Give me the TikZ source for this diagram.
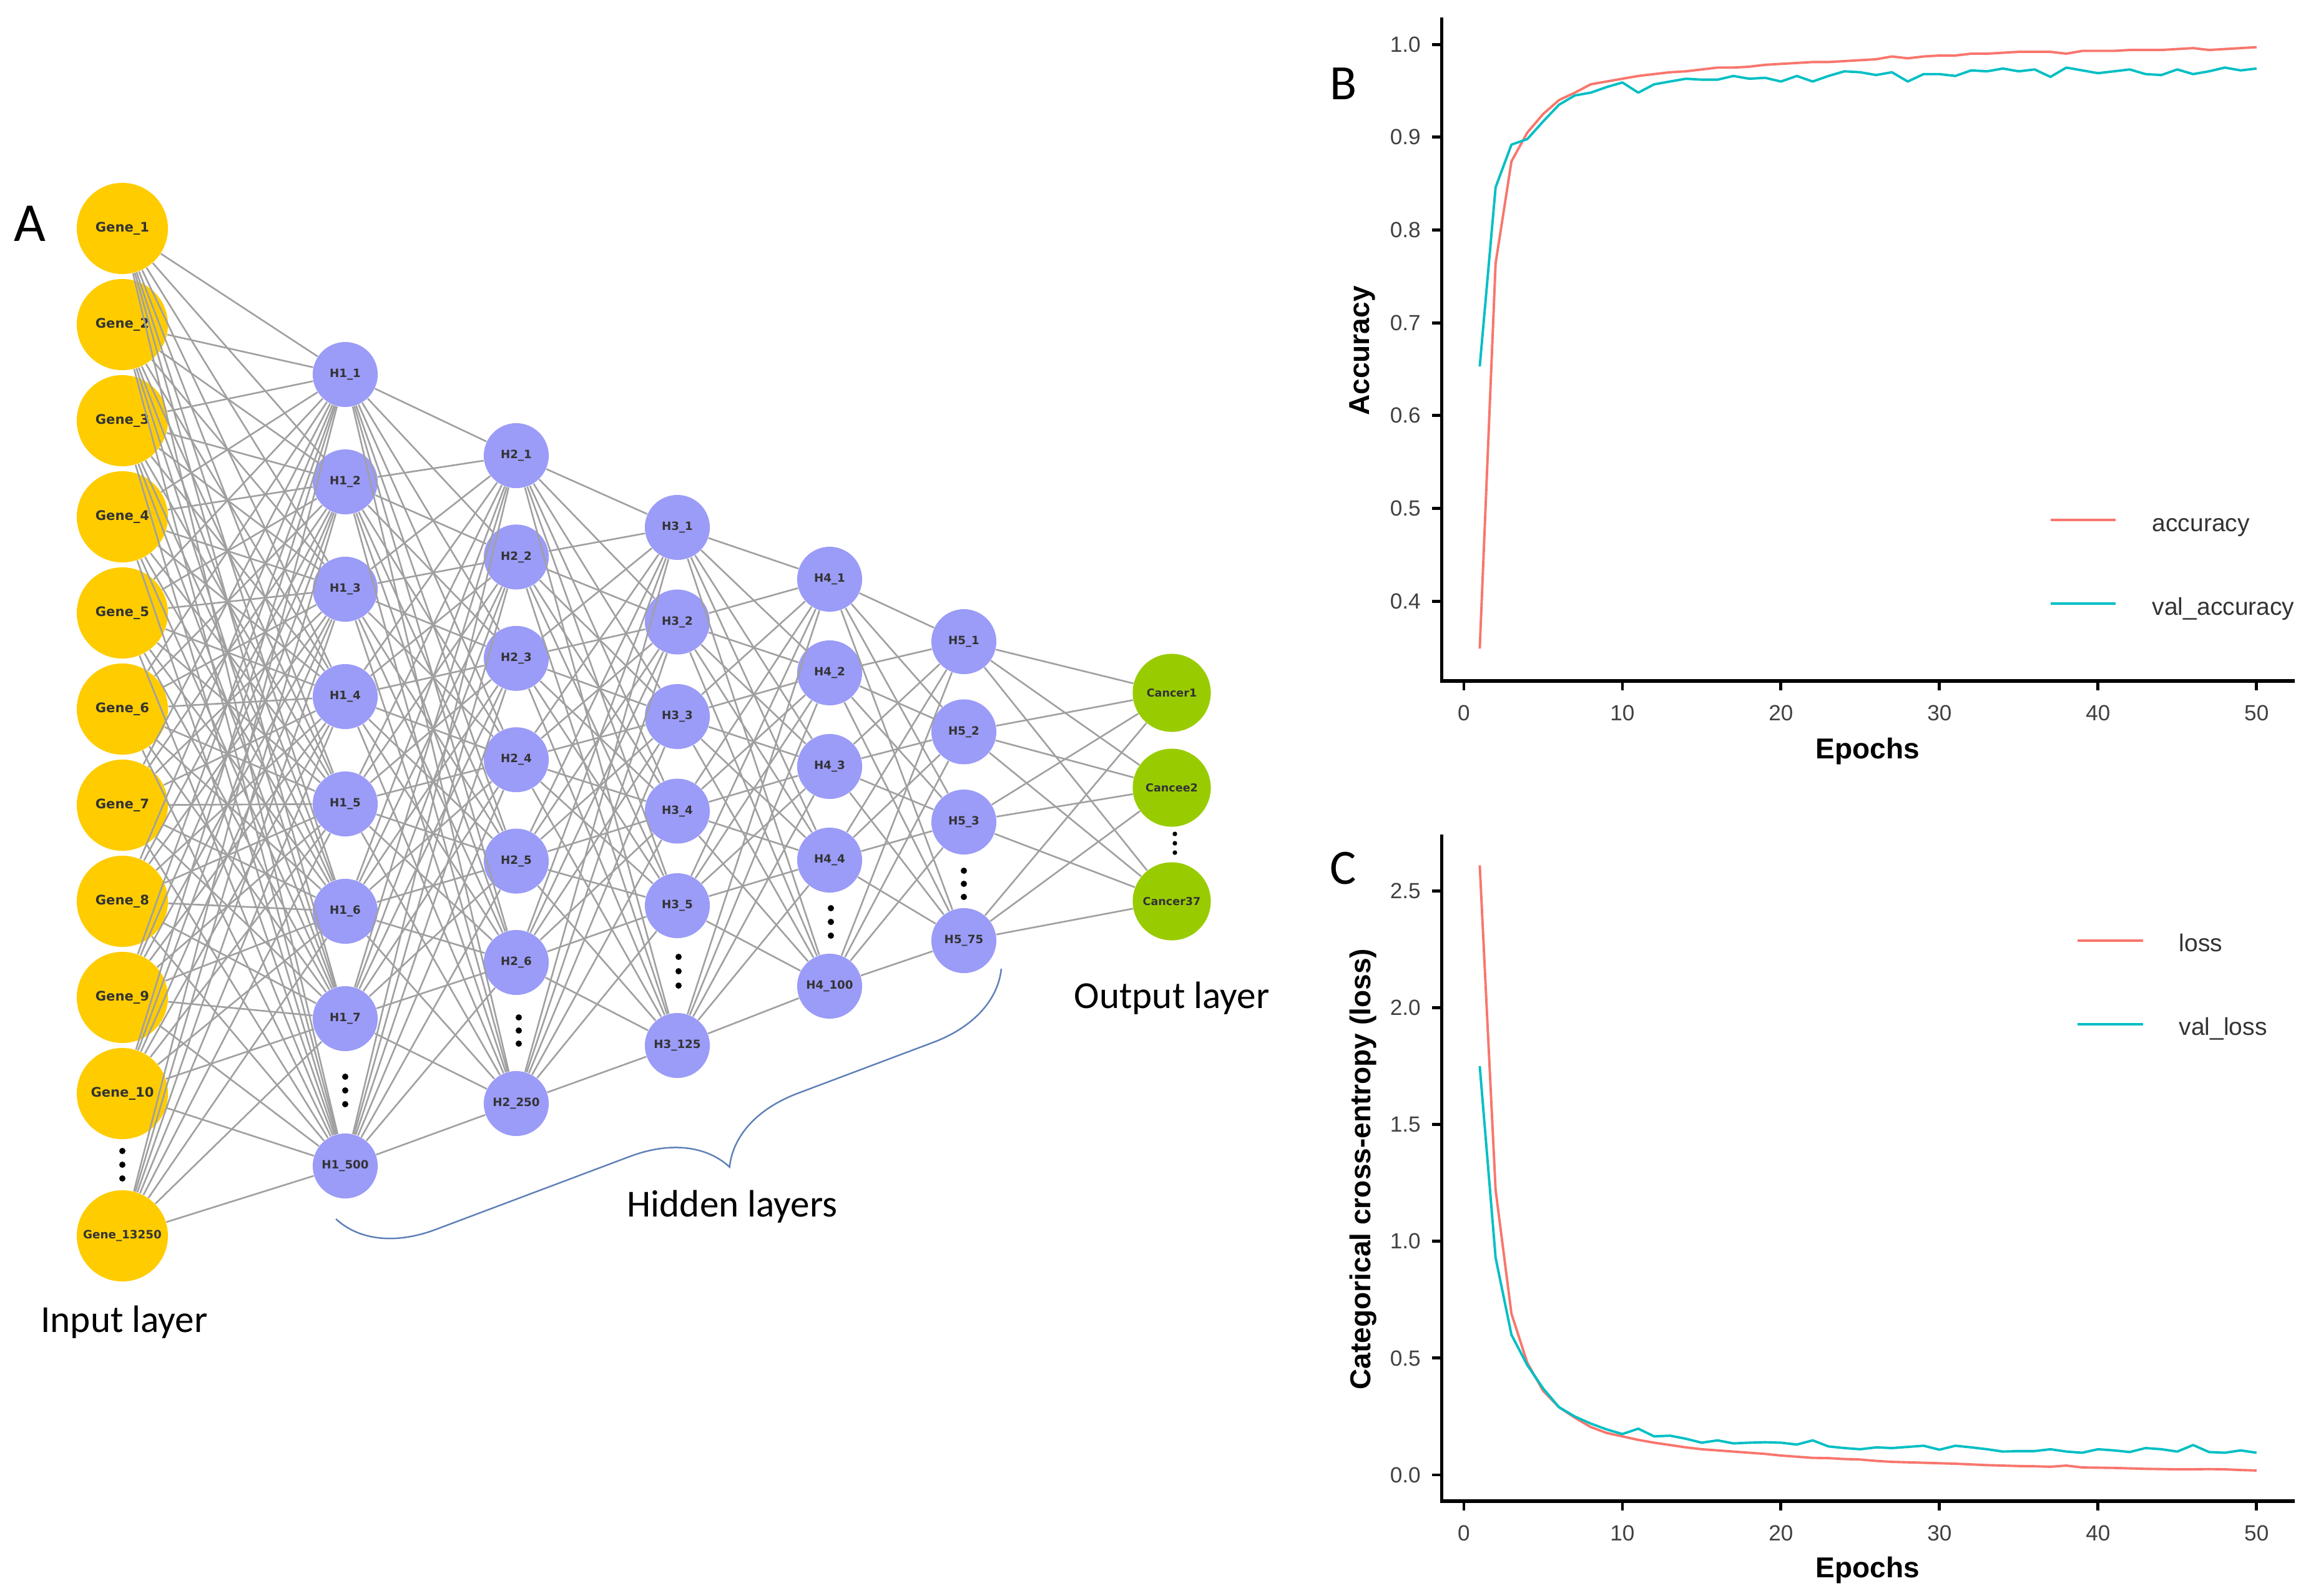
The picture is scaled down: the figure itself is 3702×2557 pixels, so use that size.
\documentclass[tikz,border=0pt]{standalone}
\usepackage{fontspec}
\setmainfont{Carlito}
\newfontfamily\nodefont{DejaVu Sans}
\newfontfamily\plotfont{Liberation Sans}
\usetikzlibrary{decorations.pathreplacing}
\definecolor{geneyellow}{HTML}{FFCC00}
\definecolor{hidpurple}{HTML}{9B9BF8}
\definecolor{outgreen}{HTML}{99CC00}
\definecolor{accred}{HTML}{F8766D}
\definecolor{valcyan}{HTML}{00BFC4}
\definecolor{braceblue}{HTML}{5E80B8}
\definecolor{edgegray}{HTML}{A0A0A0}
\begin{document}
\begin{tikzpicture}[x=0.01cm, y=-0.01cm,
    neuron/.style={circle, inner sep=0pt, text=black!80},
    gene/.style={neuron, fill=geneyellow, minimum size=1.46cm, font=\nodefont\bfseries\fontsize{6pt}{7pt}\selectfont},
    hid/.style={neuron, fill=hidpurple, minimum size=1.04cm, font=\nodefont\bfseries\fontsize{5.2pt}{6pt}\selectfont},
    outp/.style={neuron, fill=outgreen, minimum size=1.25cm, font=\nodefont\bfseries\fontsize{5pt}{6pt}\selectfont},
    edge/.style={draw=edgegray, line width=0.75pt},
    layerlabel/.style={anchor=base, inner sep=0pt, font=\fontsize{17.4pt}{20pt}\selectfont},
    panellabel/.style={anchor=base, inner sep=0pt, font=\fontsize{22.5pt}{26pt}\selectfont},
    axisline/.style={line width=1.6pt, line cap=rect},
    tickline/.style={line width=1.4pt},
    ticklab/.style={inner sep=0pt, text=black!75, font=\plotfont\fontsize{10pt}{12pt}\selectfont},
    legendlab/.style={anchor=base west, inner sep=0pt, text=black!80, font=\plotfont\fontsize{11.1pt}{13pt}\selectfont},
    axtitle/.style={inner sep=0pt, font=\plotfont\bfseries\fontsize{13.1pt}{15pt}\selectfont},
    accline/.style={draw=accred, line width=1.1pt, line join=round},
    valline/.style={draw=valcyan, line width=1.1pt, line join=round}]
    % canvas, in pixels of the reference
    \fill[white] (0,0) rectangle (3702,2557);

    % input layer
    \foreach \i in {1,...,10}
        \node[gene] (g\i) at (196,{366+154*(\i-1)}) {Gene\_\i};
    \node[gene, font=\nodefont\bfseries\fontsize{5.2pt}{6pt}\selectfont] (g11) at (196,1980) {Gene\_13250};

    % hidden layers
    \foreach \i in {1,...,7}
        \node[hid] (a\i) at (553,{600+172*(\i-1)}) {H1\_\i};
    \node[hid] (a8) at (553,1868) {H1\_500};
    \foreach \i in {1,...,6}
        \node[hid] (b\i) at (827,{730+162.4*(\i-1)}) {H2\_\i};
    \node[hid] (b7) at (827,1768) {H2\_250};
    \foreach \i in {1,...,5}
        \node[hid] (c\i) at (1085,{845+151.5*(\i-1)}) {H3\_\i};
    \node[hid] (c6) at (1085,1675) {H3\_125};
    \foreach \i in {1,...,4}
        \node[hid] (d\i) at (1329,{928+150*(\i-1)}) {H4\_\i};
    \node[hid] (d5) at (1329,1580) {H4\_100};
    \foreach \i in {1,...,3}
        \node[hid] (e\i) at (1544,{1028+144.5*(\i-1)}) {H5\_\i};
    \node[hid] (e4) at (1544,1507) {H5\_75};

    % output layer
    \node[outp] (o1) at (1877,1110) {Cancer1};
    \node[outp] (o2) at (1877,1262) {Cancee2};
    \node[outp] (o3) at (1877,1444) {Cancer37};

    % full connections between neighbouring layers
    \foreach \p/\q/\m/\n in {g/a/11/8, a/b/8/7, b/c/7/6, c/d/6/5, d/e/5/4, e/o/4/3}
        \foreach \i in {1,...,\m}
            \foreach \j in {1,...,\n}
                \draw[edge] (\p\i) -- (\q\j);

    % vertical dots
    \foreach \x/\y/\s in {196/1844/22, 553/1725/22, 831/1630/21, 1087/1533/23, 1331/1455/22, 1544/1395/21}
        \foreach \k in {0,1,2}
            \fill (\x,{\y+\k*\s}) circle[radius=0.05cm];
    \foreach \k in {0,1,2}
        \fill (1882,{1336+15*\k}) circle[radius=0.037cm];

    % brace and layer names
    \draw[braceblue, line width=0.7pt, decorate, decoration={brace, amplitude=1.44cm, aspect=0.456}] (1604,1552) -- (538,1953);
    \node[layerlabel] (inlab) at (199,2134) {Input layer};
    \node[layerlabel] (hidlab) at (1173,1949) {Hidden layers};
    \node[layerlabel] (outlab) at (1877,1615) {Output layer};
    \node[panellabel, font=\fontsize{25pt}{29pt}\selectfont] (pa) at (48,386) {A};
    \node[panellabel] (pb) at (2152,159) {B};
    \node[panellabel] (pc) at (2152,1416) {C};

    % B: accuracy
    \begin{scope}[shift={(2345,1558)}, x=0.2538cm, y=14.86cm]
        \draw[axisline] (-1.4,1.027) -- (-1.4,0.314) -- (52.3,0.314);
        \foreach \v [count=\i] in {0.4,0.5,0.6,0.7,0.8,0.9,1.0} {
            \draw[tickline] (-1.4,\v) -- ++(-0.15cm,0);
            \node[ticklab, left=0.33cm] (bty\i) at (-1.4,\v) {\v};
        }
        \foreach \e [count=\i] in {0,10,20,30,40,50} {
            \draw[tickline] (\e,0.314) -- ++(0,-0.15cm);
            \node[ticklab, below=0.38cm] (btx\i) at (\e,0.314) {\e};
        }
        \draw[accline] plot coordinates {(1,0.349) (2,0.764) (3,0.874) (4,0.905) (5,0.925) (6,0.940) (7,0.948) (8,0.957) (9,0.960) (10,0.963)
            (11,0.966) (12,0.968) (13,0.970) (14,0.971) (15,0.973) (16,0.975) (17,0.975) (18,0.976) (19,0.978) (20,0.979)
            (21,0.980) (22,0.981) (23,0.981) (24,0.982) (25,0.983) (26,0.984) (27,0.987) (28,0.985) (29,0.987) (30,0.988)
            (31,0.988) (32,0.990) (33,0.990) (34,0.991) (35,0.992) (36,0.992) (37,0.992) (38,0.990) (39,0.993) (40,0.993)
            (41,0.993) (42,0.994) (43,0.994) (44,0.994) (45,0.995) (46,0.996) (47,0.994) (48,0.995) (49,0.996) (50,0.997)};
        \draw[valline] plot coordinates {(1,0.653) (2,0.846) (3,0.892) (4,0.898) (5,0.917) (6,0.935) (7,0.945) (8,0.948) (9,0.954) (10,0.959)
            (11,0.948) (12,0.957) (13,0.960) (14,0.963) (15,0.962) (16,0.962) (17,0.966) (18,0.963) (19,0.964) (20,0.960)
            (21,0.966) (22,0.960) (23,0.966) (24,0.971) (25,0.970) (26,0.967) (27,0.970) (28,0.960) (29,0.968) (30,0.968)
            (31,0.966) (32,0.972) (33,0.971) (34,0.974) (35,0.971) (36,0.973) (37,0.965) (38,0.975) (39,0.972) (40,0.969)
            (41,0.971) (42,0.973) (43,0.968) (44,0.967) (45,0.973) (46,0.968) (47,0.971) (48,0.975) (49,0.972) (50,0.974)};
    \end{scope}
    \node[axtitle, rotate=90] (accy) at (2182,562) {Accuracy};
    \node[axtitle, anchor=base] (accx) at (2992,1215) {Epochs};
    \draw[accline] (3285,833) -- (3389,833);
    \draw[valline] (3285,967) -- (3389,967);
    \node[legendlab] (acclab) at (3447,851) {accuracy};
    \node[legendlab] (valacclab) at (3447,985) {val\_accuracy};

    % C: loss
    \begin{scope}[shift={(2345,2363)}, x=0.2538cm, y=3.74cm]
        \draw[axisline] (-1.4,2.735) -- (-1.4,-0.112) -- (52.3,-0.112);
        \foreach \v [count=\i] in {0.0,0.5,1.0,1.5,2.0,2.5} {
            \draw[tickline] (-1.4,\v) -- ++(-0.15cm,0);
            \node[ticklab, left=0.33cm] (cty\i) at (-1.4,\v) {\v};
        }
        \foreach \e [count=\i] in {0,10,20,30,40,50} {
            \draw[tickline] (\e,-0.112) -- ++(0,-0.15cm);
            \node[ticklab, below=0.38cm] (ctx\i) at (\e,-0.112) {\e};
        }
        \draw[accline] plot coordinates {(1,2.61) (2,1.22) (3,0.69) (4,0.48) (5,0.36) (6,0.29) (7,0.245) (8,0.205) (9,0.18) (10,0.165)
            (11,0.15) (12,0.138) (13,0.128) (14,0.118) (15,0.11) (16,0.105) (17,0.1) (18,0.095) (19,0.09) (20,0.083)
            (21,0.078) (22,0.073) (23,0.072) (24,0.068) (25,0.066) (26,0.06) (27,0.056) (28,0.054) (29,0.052) (30,0.05)
            (31,0.048) (32,0.045) (33,0.042) (34,0.04) (35,0.038) (36,0.037) (37,0.035) (38,0.04) (39,0.032) (40,0.031)
            (41,0.03) (42,0.028) (43,0.026) (44,0.025) (45,0.024) (46,0.024) (47,0.025) (48,0.024) (49,0.021) (50,0.019)};
        \draw[valline] plot coordinates {(1,1.75) (2,0.93) (3,0.60) (4,0.47) (5,0.37) (6,0.29) (7,0.25) (8,0.22) (9,0.195) (10,0.175)
            (11,0.198) (12,0.165) (13,0.168) (14,0.155) (15,0.138) (16,0.148) (17,0.135) (18,0.138) (19,0.14) (20,0.138)
            (21,0.13) (22,0.148) (23,0.122) (24,0.115) (25,0.11) (26,0.118) (27,0.115) (28,0.12) (29,0.125) (30,0.108)
            (31,0.125) (32,0.118) (33,0.11) (34,0.1) (35,0.102) (36,0.102) (37,0.11) (38,0.1) (39,0.095) (40,0.11)
            (41,0.105) (42,0.098) (43,0.115) (44,0.11) (45,0.1) (46,0.128) (47,0.098) (48,0.095) (49,0.105) (50,0.095)};
    \end{scope}
    \node[axtitle, rotate=90] (lossy) at (2184,1873) {Categorical cross-entropy (loss)};
    \node[axtitle, anchor=base] (lossx) at (2992,2527) {Epochs};
    \draw[accline] (3328,1507) -- (3433,1507);
    \draw[valline] (3328,1641) -- (3433,1641);
    \node[legendlab] (losslab) at (3490,1524) {loss};
    \node[legendlab] (vallosslab) at (3490,1658) {val\_loss};
\end{tikzpicture}
\end{document}
